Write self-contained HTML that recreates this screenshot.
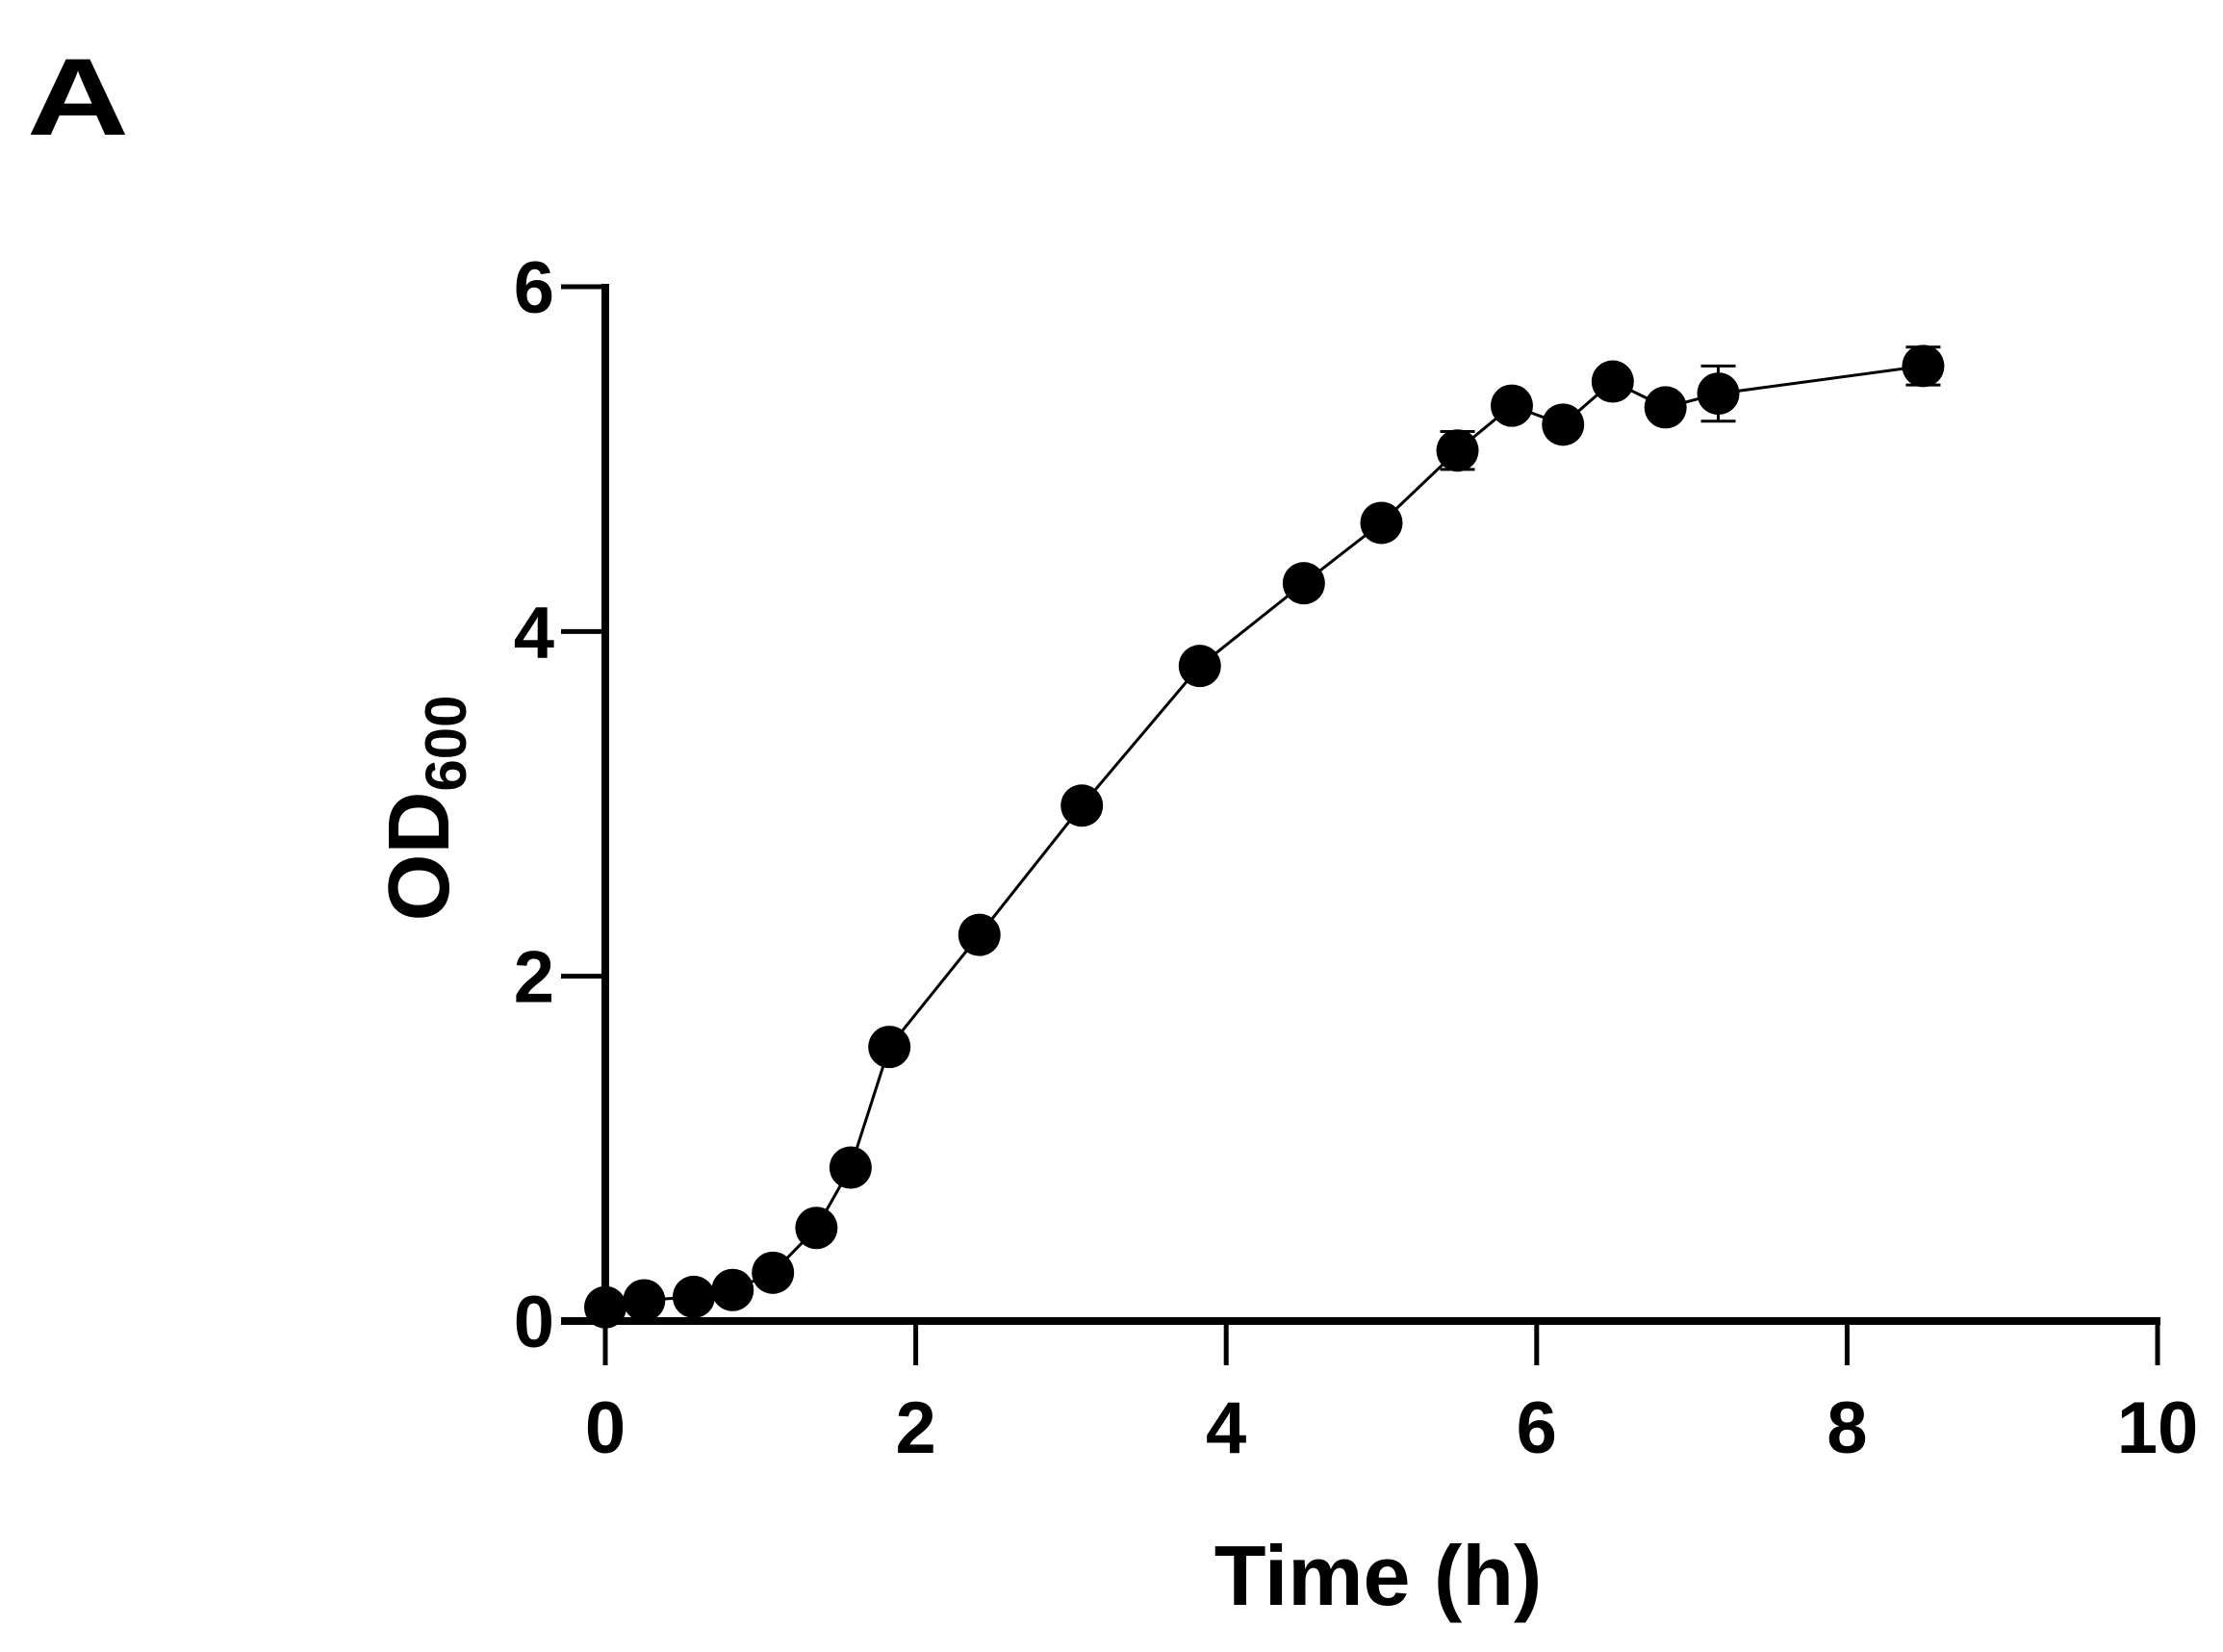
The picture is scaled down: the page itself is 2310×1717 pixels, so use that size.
<!DOCTYPE html>
<html><head><meta charset="utf-8"><style>
html,body{margin:0;padding:0;background:#fff;}
svg{display:block;font-family:"Liberation Sans",Arial,sans-serif;font-weight:bold;}
</style></head><body>
<svg id="chart" width="2310" height="1717" viewBox="0 0 2310 1717">
<text x="28" y="140" font-size="114" textLength="106" lengthAdjust="spacingAndGlyphs">A</text>
<g id="axes"></g>
<g id="marks"></g>
<text x="1432" y="1668" font-size="88" text-anchor="middle">Time (h)</text>
<text transform="translate(466,840) rotate(-90)" font-size="90" text-anchor="middle">OD<tspan font-size="60" dy="18">600</tspan></text>
</svg>
<script>
const times = [0, 0.25, 0.57, 0.82, 1.08, 1.36, 1.58, 1.83, 2.41, 3.07, 3.83, 4.50, 5.00, 5.49, 5.84, 6.17, 6.49, 6.83, 7.17, 8.49];
const od600 = [0.08, 0.12, 0.14, 0.18, 0.28, 0.54, 0.89, 1.59, 2.24, 2.99, 3.80, 4.28, 4.63, 5.05, 5.31, 5.20, 5.45, 5.30, 5.38, 5.54];
const errors = [0, 0, 0, 0, 0, 0, 0, 0, 0, 0, 0, 0, 0, 0.11, 0, 0, 0, 0, 0.16, 0.11];
const xTicks = [0, 2, 4, 6, 8, 10];
const yTicks = [0, 2, 4, 6];
const NS = "http://www.w3.org/2000/svg";
const X0 = 629, X1 = 2242, Y0 = 1373, Y1 = 298;
function sx(v){ return X0 + (X1 - X0) * v / 10; }
function sy(v){ return Y0 - (Y0 - Y1) * v / 6; }
function mk(tag, attrs, parent){ const e = document.createElementNS(NS, tag); for (const k in attrs) e.setAttribute(k, attrs[k]); parent.appendChild(e); return e; }
const axes = document.getElementById('axes');
const marks = document.getElementById('marks');
let l = mk('line', {x1:X0, y1:Y1-3, x2:X0, y2:Y0+4, stroke:'#000', 'stroke-width':8}, axes);


l = mk('line', {x1:X0-46, y1:Y0, x2:X1+3, y2:Y0, stroke:'#000', 'stroke-width':8}, axes);


yTicks.forEach(v => {
  const t = mk('line', {x1:X0-46, y1:sy(v), x2:X0, y2:sy(v), stroke:'#000', 'stroke-width':5}, axes);
  
  
  const tx = mk('text', {x:576, y:sy(v)+27, 'font-size':76, 'text-anchor':'end'}, axes);
  tx.textContent = v;
  
  
});
xTicks.forEach(v => {
  const t = mk('line', {x1:sx(v), y1:Y0, x2:sx(v), y2:Y0+46, stroke:'#000', 'stroke-width':5}, axes);
  
  
  const tx = mk('text', {x:sx(v), y:1510, 'font-size':76, 'text-anchor':'middle'}, axes);
  tx.textContent = v;
  
  
});
const pts = times.map((t,i) => sx(t).toFixed(1) + ',' + sy(od600[i]).toFixed(1)).join(' ');
const pl = mk('polyline', {points:pts, fill:'none', stroke:'#000', 'stroke-width':3}, marks);


times.forEach((t,i) => {
  if (errors[i] > 0) {
    const x = sx(t), ya = sy(od600[i] + errors[i]), yb = sy(od600[i] - errors[i]);
    const eb = mk('path', {d:`M${x},${ya}V${yb}M${x-18},${ya}H${x+18}M${x-18},${yb}H${x+18}`, stroke:'#000', 'stroke-width':3, fill:'none'}, marks);
    
    
  }
  const c = mk('circle', {cx:sx(t), cy:sy(od600[i]), r:22, fill:'#000'}, marks);
  
  
});
</script>
</body></html>
